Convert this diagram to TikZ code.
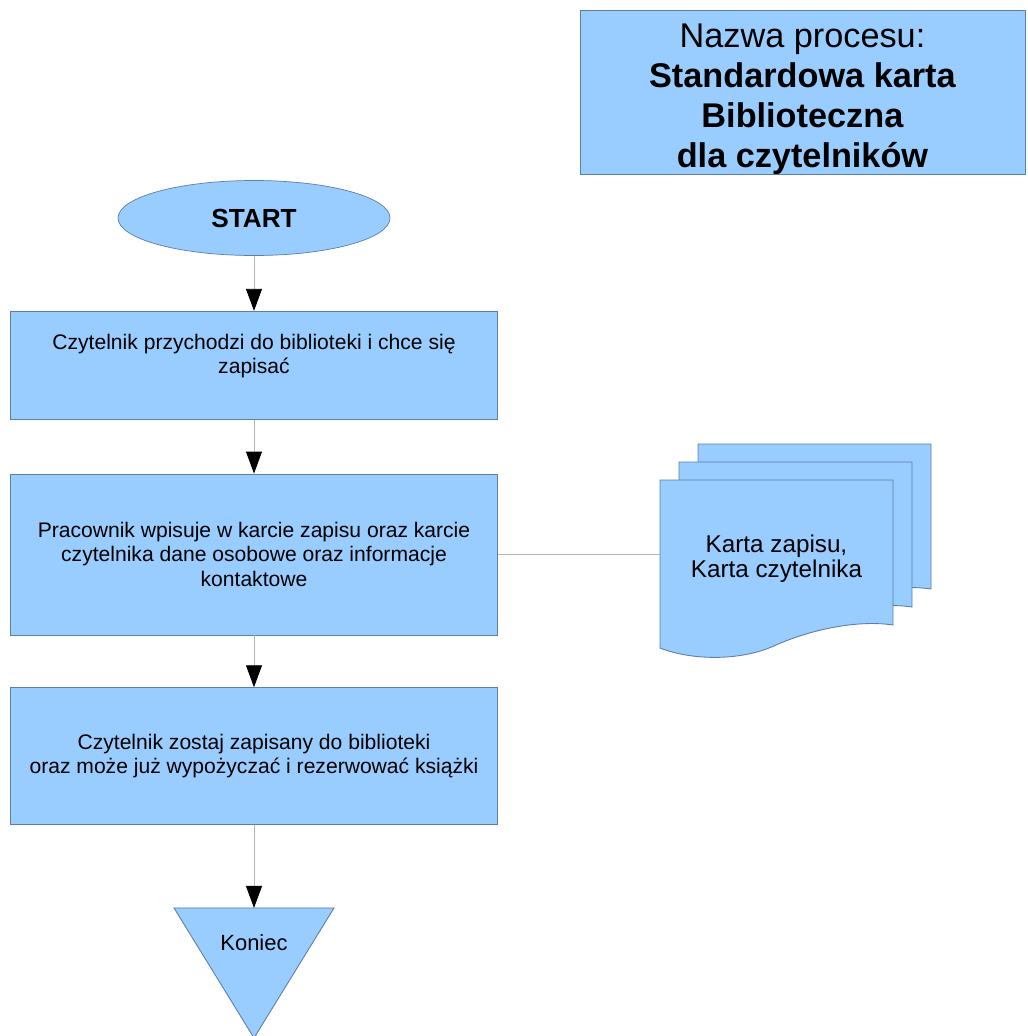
\documentclass[tikz,border=0pt]{standalone}
\usepackage{fontspec}
\setmainfont{Liberation Sans}
\usetikzlibrary{positioning, arrows.meta, shapes.geometric}

\definecolor{blok}{HTML}{99CCFF}
\definecolor{ramka}{HTML}{5B7FA6}
\definecolor{linia}{HTML}{B4B4B4}

\begin{document}
\begin{tikzpicture}[>={Triangle[length=0.44cm, width=0.32cm, color=black]},
        krok/.style={rectangle, draw=ramka, fill=blok, minimum width=9.74cm, align=center, font=\fontsize{12}{13.7}\selectfont},
        polacz/.style={draw=linia, line width=0.5pt},
        dokument/.style={draw=ramka, fill=blok, line width=0.5pt}]
        \useasboundingbox (0,0) rectangle (20.54,-20.72);

        \node (tytul) [rectangle, draw=ramka, fill=blok, minimum width=8.9cm, minimum height=3.28cm] at (16.05,-1.84) {};
        \node (tytulNap) [align=center, font=\fontsize{19.5}{22.8}\selectfont] at ([yshift=-0.14cm]tytul.center)
            {Nazwa procesu:\\ \textbf{Standardowa karta}\\ \textbf{Biblioteczna}\\ \textbf{dla czytelników}};

        \node (start) [ellipse, draw=ramka, fill=blok, minimum width=5.44cm, minimum height=1.5cm, font=\fontsize{14.9}{17}\selectfont\bfseries] at (5.08,-4.36) {START};
        \node (przychodzi) [krok, minimum height=2.16cm, text depth=0.47cm, below=1.1cm of start] {Czytelnik przychodzi do biblioteki i chce się\\ zapisać};
        \node (wpis) [krok, minimum height=3.22cm, below=1.08cm of przychodzi] {Pracownik wpisuje w karcie zapisu oraz karcie\\ czytelnika dane osobowe oraz informacje\\ kontaktowe};
        \node (zapisany) [krok, minimum height=2.74cm, below=1.04cm of wpis] {Czytelnik zostaj zapisany do biblioteki\\ oraz może już wypożyczać i rezerwować książki};
        \coordinate[below=1.66cm of zapisany] (koniec);

        % trojkat konca
        \draw[dokument] (koniec) ++(-1.6,0) -- ++(3.2,0) -- ++(-1.6,-2.6) -- cycle;
        \node (koniecNap) [font=\fontsize{12.5}{14}\selectfont] at ([yshift=-0.7cm]koniec) {Koniec};

        % stos kart
        \foreach \d in {2,1,0} {
            \begin{scope}[shift={({0.38*\d},{0.36*\d})}]
                \draw[dokument] (13.2,-9.6) -- (17.86,-9.6) -- (17.86,-12.5)
                    .. controls (17.2,-12.4) and (16.3,-12.56) .. (15.52,-12.9)
                    .. controls (14.8,-13.24) and (13.8,-13.2) .. (13.2,-12.96) -- cycle;
            \end{scope}
        }
        \node (karta) [minimum width=4.66cm, align=center, font=\fontsize{13.8}{14.2}\selectfont] at (15.53,-11.18) {Karta zapisu,\\ Karta czytelnika};

        \path[polacz]
            (start) edge[->] (przychodzi)
            (przychodzi) edge[->] (wpis)
            (wpis) edge[->] (zapisany)
            (zapisany) edge[->] (koniec)
            (wpis.east) edge (wpis.east -| karta.west);
\end{tikzpicture}
\end{document}
